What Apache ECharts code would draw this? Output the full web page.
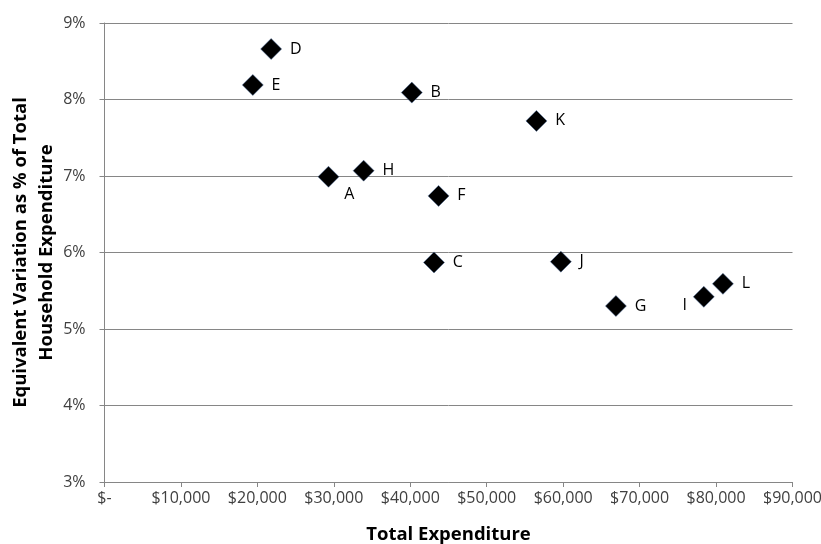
<!DOCTYPE html>
<html>
<head>
<meta charset="utf-8">
<script src="https://cdn.jsdelivr.net/npm/echarts@6/dist/echarts.min.js"></script>
<style>
html,body{margin:0;padding:0;background:#fff;}
#chart{width:821px;height:544px;}
</style>
</head>
<body>
<div id="chart"></div>
<script>
// Data
var names = ['A','B','C','D','E','F','G','H','I','J','K','L'];
var expenditure = [29300, 40200, 43100, 21800, 19400, 43700, 66900, 33900, 78400, 59700, 56500, 80900];
var evPercent = [6.99, 8.09, 5.87, 8.66, 8.19, 6.74, 5.30, 7.07, 5.42, 5.88, 7.72, 5.59];
var xTicks = [0, 10000, 20000, 30000, 40000, 50000, 60000, 70000, 80000, 90000];
var yTicks = [3, 4, 5, 6, 7, 8, 9];

// Label placement (style only)
var labelPlacement = {
  A: {position: 'right', offset: [-3, 18]},
  I: {position: 'left', offset: [2, 9]}
};

var FONT = '"Open Sans", sans-serif';
var points = names.map(function (n, i) {
  var d = {name: n, value: [expenditure[i], evPercent[i]]};
  if (labelPlacement[n]) d.label = labelPlacement[n];
  return d;
});

var chart = echarts.init(document.getElementById('chart'), null, {renderer: 'canvas'});
chart.setOption({
  animation: false,
  backgroundColor: '#ffffff',
  grid: {left: 104.5, right: 28.5, top: 23, bottom: 62, containLabel: false, outerBoundsMode: 'none'},
  xAxis: {
    type: 'value',
    min: xTicks[0], max: xTicks[xTicks.length - 1], interval: 10000,
    name: 'Total Expenditure',
    nameLocation: 'middle', nameGap: 43, nameMoveOverlap: false,
    nameTextStyle: {fontFamily: FONT, fontWeight: 'bold', fontSize: 18.5, color: '#000'},
    axisLine: {show: true, lineStyle: {color: '#868686', width: 1}},
    axisTick: {show: true, length: 5, lineStyle: {color: '#868686'}},
    splitLine: {show: false},
    axisLabel: {
      fontFamily: FONT, fontSize: 16, color: '#404040', margin: 8,
      formatter: function (v) { return v === 0 ? '$-' : '$' + v.toLocaleString('en-US'); }
    }
  },
  yAxis: {
    type: 'value',
    min: yTicks[0], max: yTicks[yTicks.length - 1], interval: 1,
    name: 'Equivalent Variation as % of Total\nHousehold Expenditure',
    nameLocation: 'middle', nameGap: 45, nameMoveOverlap: false,
    nameTextStyle: {fontFamily: FONT, fontWeight: 'bold', fontSize: 18.5, color: '#000', lineHeight: 26, align: 'center'},
    axisLine: {show: true, lineStyle: {color: '#868686', width: 1}},
    axisTick: {show: true, length: 5, lineStyle: {color: '#868686'}},
    splitLine: {show: true, lineStyle: {color: '#868686', width: 1}},
    axisLabel: {
      fontFamily: FONT, fontSize: 16, color: '#404040', margin: 19,
      formatter: function (v) { return v + '%'; }
    }
  },
  series: [{
    type: 'scatter',
    data: points,
    symbol: 'diamond',
    symbolSize: [21, 21],
    itemStyle: {color: '#000000', opacity: 1, borderColor: '#4f6f9f', borderWidth: 0.5},
    label: {
      show: true, position: 'right', distance: 8,
      formatter: '{b}',
      fontFamily: FONT, fontSize: 16, color: '#000'
    }
  }]
});
</script>
</body>
</html>
